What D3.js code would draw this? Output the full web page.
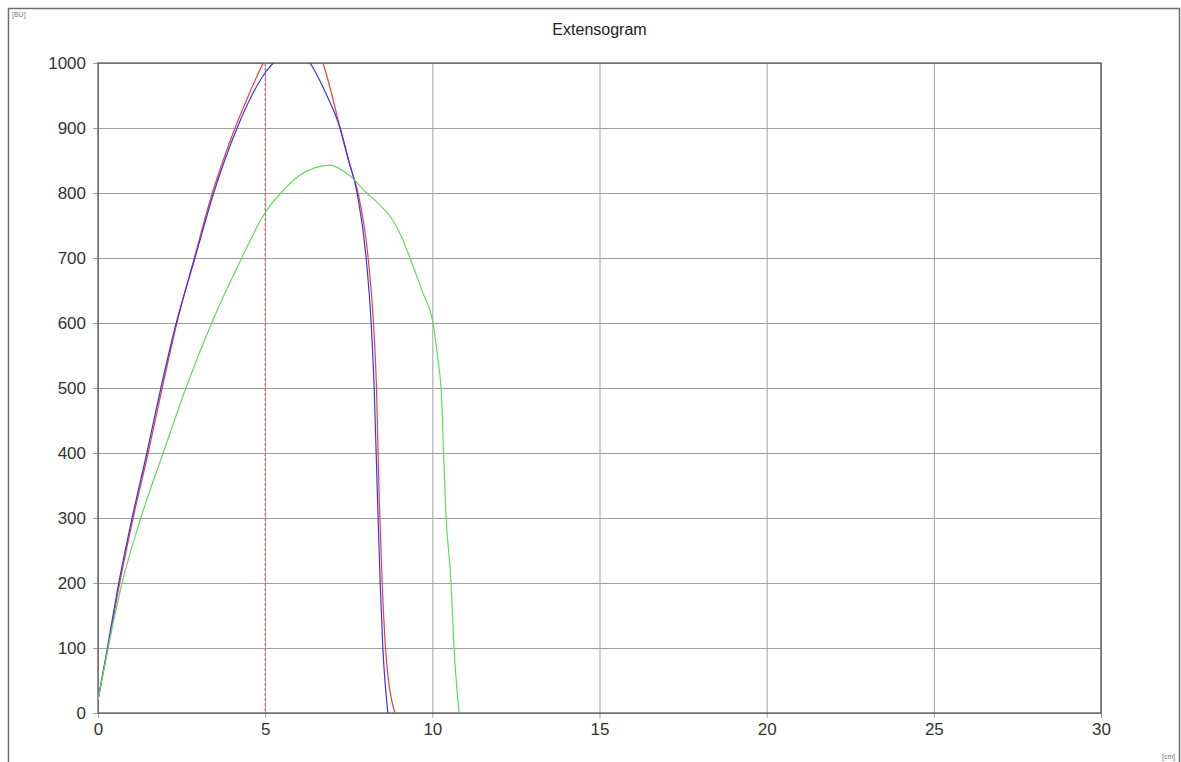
<!DOCTYPE html>
<html>
<head>
<meta charset="utf-8">
<script src="https://cdn.jsdelivr.net/npm/d3@7"></script>
<style>
  html, body { margin: 0; padding: 0; background: #fff; }
  svg { display: block; font-family: "Liberation Sans", Arial, sans-serif; }
</style>
</head>
<body>
<div class="chart"></div>
<script>
// extensogram curves: x = extension [cm], y = resistance [BU]
const redCurve = [
  [0, 20], [0.3, 100], [0.65, 200], [1.05, 300], [1.5, 400], [1.92, 500], [2.36, 600],
  [2.88, 700], [3.42, 800], [4.1, 900], [4.5, 950], [4.94, 1000], [5.4, 1045], [5.85, 1060],
  [6.3, 1045], [6.73, 1000], [7.0, 950], [7.24, 900], [7.52, 845], [7.78, 800],
  [8.08, 700], [8.24, 600], [8.33, 500], [8.41, 330], [8.5, 200], [8.6, 100], [8.88, 0]
];

const blueCurve = [
  [0, 20], [0.28, 100], [0.62, 200], [1.02, 300], [1.46, 400], [1.88, 500], [2.34, 600],
  [2.9, 700], [3.46, 800], [4.16, 900], [4.6, 950], [5.0, 985], [5.24, 1000], [5.8, 1025],
  [6.34, 1000], [6.8, 955], [7.24, 900], [7.5, 850], [7.75, 800],
  [8.02, 700], [8.17, 600], [8.26, 500], [8.36, 330], [8.44, 200], [8.52, 100], [8.67, 0]
];

const greenCurve = [
  [0, 20], [0.3, 100], [0.72, 200], [1.28, 300], [1.95, 400], [2.63, 500], [3.4, 600],
  [4.3, 700], [5.0, 770], [5.6, 807], [6.0, 826], [6.5, 839], [6.92, 843], [7.5, 828],
  [8.0, 802], [8.44, 781], [8.82, 758], [9.1, 730], [9.33, 700], [9.72, 646], [10.02, 600],
  [10.17, 543], [10.26, 500], [10.41, 302], [10.56, 200], [10.65, 100], [10.8, 0]
];

const series = [
  {name: "red", color: "#f03c3c", values: redCurve},
  {name: "blue", color: "#3535f0", values: blueCurve},
  {name: "green", color: "#5fdc5f", values: greenCurve}
];

const xTicks = [0, 5, 10, 15, 20, 25, 30];
const yTicks = [0, 100, 200, 300, 400, 500, 600, 700, 800, 900, 1000];
const markerX = 5;

const config = {
  width: 1181,
  height: 762,
  margin: {top: 63, right: 80, bottom: 49, left: 98},
  title: "Extensogram",
  yUnit: "[BU]",
  xUnit: "[cm]"
};

const {width, height, margin} = config;
const w = width - margin.left - margin.right;
const h = height - margin.top - margin.bottom;

const x = d3.scaleLinear().domain([0, 30]).range([0, w]);
const y = d3.scaleLinear().domain([0, 1000]).range([h, 0]);

const svg = d3.select(".chart").append("svg")
  .attr("width", width)
  .attr("height", height);

// outer frame (open at the bottom edge)
svg.append("path")
  .attr("d", `M8.5,${height + 2}V8.5H1179.5V${height + 2}`)
  .attr("fill", "none")
  .attr("stroke", "#6e6e6e")
  .attr("stroke-width", 1.5);

svg.append("text")
  .attr("x", 12)
  .attr("y", 17)
  .attr("font-size", 7)
  .attr("fill", "#777")
  .text(config.yUnit);

svg.append("text")
  .attr("x", 1162)
  .attr("y", 759)
  .attr("font-size", 7)
  .attr("fill", "#777")
  .text(config.xUnit);

svg.append("text")
  .attr("x", margin.left + w / 2)
  .attr("y", 35)
  .attr("text-anchor", "middle")
  .attr("font-size", 16)
  .attr("fill", "#222")
  .text(config.title);

const chart = svg.append("g")
  .attr("transform", `translate(${margin.left},${margin.top})`);

// grid + axes
const xAxis = d3.axisBottom(x).tickValues(xTicks).tickFormat(d3.format("d"))
  .tickSizeInner(5).tickSizeOuter(0).tickPadding(5);
const yAxis = d3.axisLeft(y).tickValues(yTicks).tickFormat(d3.format("d"))
  .tickSizeInner(5).tickSizeOuter(0).tickPadding(7);

const gx = chart.append("g")
  .attr("transform", `translate(0,${h})`)
  .call(xAxis);
gx.select(".domain").remove();
gx.selectAll(".tick line").attr("y1", -h).attr("stroke", "#a0a0a0");
gx.selectAll(".tick text").attr("font-size", 17).attr("fill", "#333")
  .attr("font-family", "Liberation Sans, Arial, sans-serif");

const gy = chart.append("g").call(yAxis);
gy.select(".domain").remove();
gy.selectAll(".tick line").attr("x1", w).attr("x2", -5).attr("stroke", "#a0a0a0");
gy.selectAll(".tick text").attr("font-size", 17).attr("fill", "#333")
  .attr("font-family", "Liberation Sans, Arial, sans-serif");

chart.append("rect")
  .attr("width", w)
  .attr("height", h)
  .attr("fill", "none")
  .attr("stroke", "#5a5a5a")
  .attr("stroke-width", 1.3);

// dashed marker
chart.append("line")
  .attr("x1", x(markerX)).attr("x2", x(markerX))
  .attr("y1", 0).attr("y2", h)
  .attr("stroke", "#e06a6a")
  .attr("stroke-width", 1.2)
  .attr("stroke-dasharray", "3,2");

chart.append("clipPath")
  .attr("id", "plot-clip")
  .append("rect")
  .attr("width", w)
  .attr("height", h);

const line = d3.line()
  .x(d => x(d[0]))
  .y(d => y(d[1]))
  .curve(d3.curveMonotoneX);

chart.append("g")
  .attr("clip-path", "url(#plot-clip)")
  .selectAll("path")
  .data(series)
  .join("path")
  .attr("fill", "none")
  .attr("stroke", d => d.color)
  .attr("stroke-width", 1.2)
  .attr("d", d => line(d.values));
</script>
</body>
</html>
